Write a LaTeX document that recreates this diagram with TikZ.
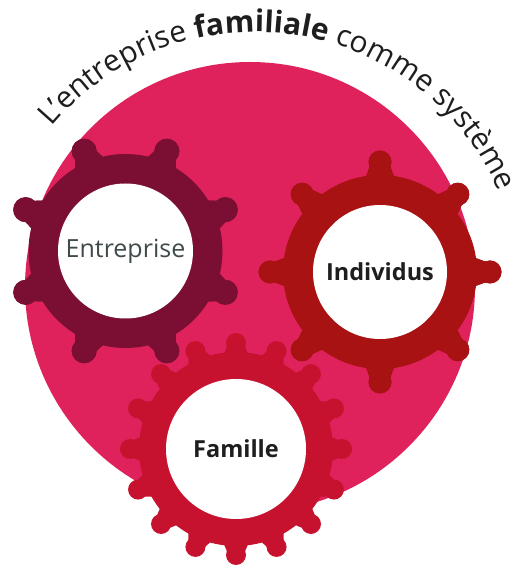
\documentclass[tikz,border=0pt]{standalone}
\usepackage{fontspec}
\setmainfont{Open Sans}
\usetikzlibrary{decorations.text}
\definecolor{disc}{HTML}{E0225C}
\definecolor{gearE}{HTML}{7A0F33}
\definecolor{gearI}{HTML}{A81212}
\definecolor{gearF}{HTML}{C6122E}
\definecolor{inkdark}{HTML}{1E1E1E}
\definecolor{inkgrey}{HTML}{3F4A4A}
\newcommand{\gearshape}[8]{% x y outer toothr bulb start step colour
  \fill[#8] (#1,#2) circle[radius=#3];
  \foreach \k in {0,...,15}{
    \pgfmathsetmacro{\ang}{#6+\k*#7}
    \begin{scope}[shift={(#1,#2)},rotate=\ang]
      \fill[#8] (#3-4,{-1.3*#5}) -- (#4,{-0.75*#5}) -- (#4,{0.75*#5}) -- (#3-4,{1.3*#5}) -- cycle;
      \fill[#8] (#4,0) circle[radius=#5];
    \end{scope}
  }
}
\tikzset{
  hole/.style={circle,fill=white,inner sep=0pt},
}
\begin{document}
\begin{tikzpicture}[x=1pt,y=1pt]
\useasboundingbox (0,0) rectangle (521,567);
\fill[white] (0,0) rectangle (521,567);
\fill[disc] (250,280) circle[radius=225];
% Famille
\gearshape{236}{118}{97}{106}{10}{270}{22.5}{gearF}
\node[hole,minimum size=140pt,text=inkdark] (famille) at (236,118) {\fontsize{23.5}{28}\selectfont\textbf{Famille}};
% Entreprise
\gearshape{125.5}{316}{97}{108}{12.5}{22.5}{45}{gearE}
\node[hole,minimum size=135pt,text=inkgrey] (entreprise) at (125.5,316) {\fontsize{25}{30}\selectfont Entreprise};
% Individus
\gearshape{380}{295}{97}{110}{11.5}{0}{45}{gearI}
\node[hole,minimum size=134pt,text=inkdark] (individus) at (380,295) {\fontsize{23.5}{28}\selectfont\textbf{Individus}};
% Title
\path[decorate,decoration={text along path,text align={left},
  text={|\fontsize{30}{35}\selectfont\color{inkdark}|L'entreprise |\fontsize{30}{35}\selectfont\bfseries\color{inkdark}|familiale |\fontsize{30}{35}\selectfont\color{inkdark}|comme système}}]
  (255,269) ++(140:266) arc[start angle=140,end angle=10,radius=266];
\end{tikzpicture}
\end{document}
